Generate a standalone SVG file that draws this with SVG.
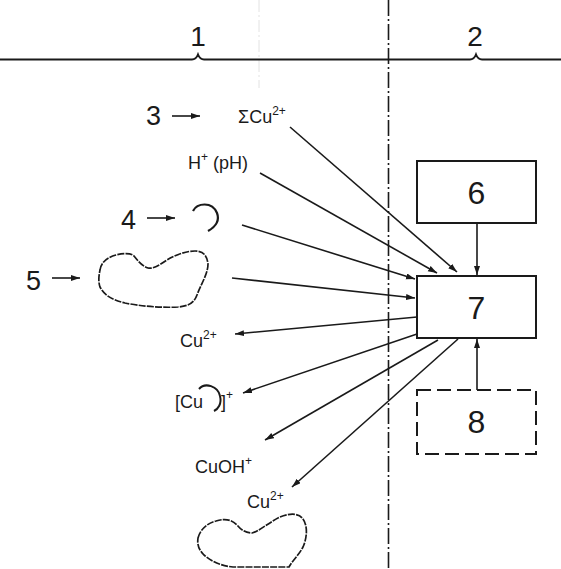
<svg xmlns="http://www.w3.org/2000/svg" width="561" height="569" viewBox="0 0 561 569">
<style>
.t{font-family:"Liberation Sans",Arial,sans-serif;fill:#1a1a1a}
.lab{font-size:18px}
.dig{font-size:27px}
.big{font-size:32px}
.sup{font-size:12px}
.ln{stroke:#1a1a1a;stroke-width:1.6;fill:none}
.box{fill:none;stroke:#1a1a1a;stroke-width:2}
.blob{fill:none;stroke:#1a1a1a;stroke-width:1.7;stroke-dasharray:7 1.2;stroke-linejoin:round}
</style>
<defs>
<marker id="ah" markerUnits="userSpaceOnUse" markerWidth="10" markerHeight="8" refX="9" refY="3" orient="auto">
<path d="M0,0 L9,3 L0,6 z" fill="#1a1a1a"/>
</marker>
</defs>
<rect width="561" height="569" fill="#ffffff"/>
<g id="frame">
<line x1="259" y1="0" x2="259" y2="88" stroke="#e2e2e2" stroke-width="1" stroke-dasharray="12 3 2 3"/>
<path d="M0,59.5 L192,59.5 Q196,59.5 198,54.5 Q200,59.5 204,59.5 L470,59.5 Q474,59.5 476,54.5 Q478,59.5 482,59.5 L561,59.5" fill="none" stroke="#1a1a1a" stroke-width="2"/>
<line x1="388.5" y1="0" x2="388.5" y2="569" stroke="#1a1a1a" stroke-width="1.6" stroke-dasharray="16 3 2 3"/>
<text class="t" x="198" y="46" font-size="28" text-anchor="middle">1</text>
<text class="t" x="475" y="46" font-size="28" text-anchor="middle">2</text>
</g>
<g id="label3">
<text class="t dig" x="146" y="125">3</text>
<line class="ln" x1="172" y1="116" x2="200" y2="116" marker-end="url(#ah)"/>
<text class="t lab" x="238" y="123">ΣCu<tspan class="sup" dy="-8">2+</tspan></text>
</g>
<g id="hplus">
<text class="t lab" x="188" y="169">H<tspan class="sup" dy="-8">+</tspan><tspan dy="8"> (pH)</tspan></text>
</g>
<g id="label4">
<text class="t dig" x="121" y="229">4</text>
<line class="ln" x1="147" y1="218" x2="175" y2="218" marker-end="url(#ah)"/>
<path d="M193,211 C197,203 212,201 217,213 C220,221 215,227 208,231" fill="none" stroke="#1a1a1a" stroke-width="2.2"/>
</g>
<g id="label5">
<text class="t dig" x="26" y="290">5</text>
<line class="ln" x1="52" y1="278" x2="80" y2="278" marker-end="url(#ah)"/>
<path class="blob" d="M100,270 C101,262 108,257 116,255 C124,253 131,253 134,256 C138,261 142,266 148,268 C153,269 158,266 167,260 C175,255 186,251 195,251 C203,251 207,255 208,264 C208,274 201,284 197,295 C194,303 189,306 178,307 C160,308 140,306 125,303 C112,300 104,295 100,287 C98,281 99,275 100,270 Z"/>
</g>
<g id="node6">
<rect class="box" x="417" y="161" width="119" height="62"/>
<text class="t big" x="476.5" y="204" text-anchor="middle">6</text>
</g>
<g id="node7">
<rect class="box" x="417" y="276" width="119" height="62"/>
<text class="t big" x="476.5" y="319" text-anchor="middle">7</text>
</g>
<g id="node8">
<rect class="box" x="417" y="390" width="119" height="64" stroke-dasharray="14 6"/>
<text class="t big" x="476.5" y="433" text-anchor="middle">8</text>
</g>
<g id="out-labels">
<text class="t lab" x="180" y="347">Cu<tspan class="sup" dy="-8">2+</tspan></text>
<text class="t lab" x="175" y="408">[Cu</text>
<path d="M199,389 C205,382 218,386 220,396 C222,404 218,409 214,411" fill="none" stroke="#1a1a1a" stroke-width="2"/>
<text class="t lab" x="221" y="408">]<tspan class="sup" dy="-9">+</tspan></text>
<text class="t lab" x="195" y="473">CuOH<tspan class="sup" dy="-8">+</tspan></text>
<text class="t lab" x="247" y="508">Cu<tspan class="sup" dy="-8">2+</tspan></text>
<path class="blob" d="M198,538 C200,530 207,523 216,521 C226,518 232,520 237,525 C241,530 246,533 252,533 C258,532 268,523 280,517 C290,513 299,513 303,519 C308,526 307,538 303,547 C299,555 292,561 289,567 L233,567 C222,566 212,562 204,555 C199,550 197,545 198,538 Z"/>
</g>
<g id="connectors">
<line class="ln" x1="290" y1="127" x2="457" y2="272" marker-end="url(#ah)"/>
<line class="ln" x1="260" y1="173" x2="437" y2="273" marker-end="url(#ah)"/>
<line class="ln" x1="242" y1="225" x2="415" y2="279" marker-end="url(#ah)"/>
<line class="ln" x1="232" y1="278" x2="415" y2="298" marker-end="url(#ah)"/>
<line class="ln" x1="477" y1="224" x2="477" y2="275" marker-end="url(#ah)"/>
<line class="ln" x1="477" y1="390" x2="477" y2="339" marker-end="url(#ah)"/>
<line class="ln" x1="417" y1="317" x2="235" y2="334" marker-end="url(#ah)"/>
<line class="ln" x1="417" y1="334" x2="243" y2="393" marker-end="url(#ah)"/>
<line class="ln" x1="438" y1="340" x2="265" y2="440" marker-end="url(#ah)"/>
<line class="ln" x1="458" y1="339" x2="292" y2="487" marker-end="url(#ah)"/>
</g>
</svg>
